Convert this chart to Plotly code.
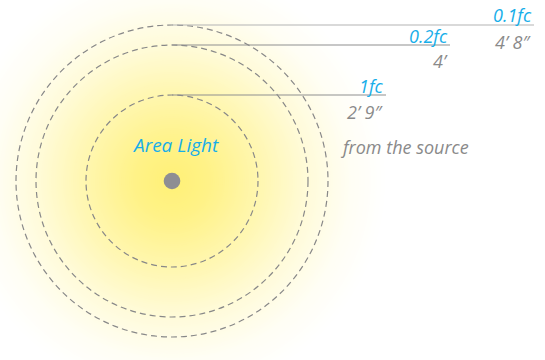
import plotly.graph_objects as go

# ---- data ----
levels = ["1fc", "0.2fc", "0.1fc"]            # illuminance levels
distances = ["2\u2019 9\u2033", "4\u2019", "4\u2019 8\u2033"]  # distance from the source
radii = [86, 136, 156]                         # drawn radius of each iso-illuminance ring
source_label = "Area Light"
note = "from the source"

# ---- styling / layout helpers ----
W, H = 545, 360
CX, CY = 172, 181  # pixel position of the source
BLUE = "#17aee9"
GRAY = "#8a8a8a"
FONT = "Open Sans"
FS = 18

line_end_px = [386, 450, 534]
line_colors = ["#8f8f8f", "#8f8f8f", "#b4b4b4"]
dist_y_px = [112, 61, 42]

def dx(px):
    return px - CX

def dy(py):
    return CY - py

fig = go.Figure()

shapes = []
# glow: stepped concentric discs, outer to inner
stops = [(0, 0.64), (40, 0.55), (86, 0.38), (136, 0.18), (156, 0.12), (180, 0.05), (215, 0.0)]

def alpha_at(r):
    for (r0, a0), (r1, a1) in zip(stops[:-1], stops[1:]):
        if r0 <= r <= r1:
            t = (r - r0) / (r1 - r0)
            return a0 + t * (a1 - a0)
    return 0.0

base = (255, 232, 40)
r = 215
while r > 0:
    a = alpha_at(r)
    col = tuple(round(255 + a * (c - 255)) for c in base)
    shapes.append(dict(type="circle", xref="x", yref="y", x0=-r, x1=r, y0=-r, y1=r,
                       fillcolor="rgb(%d,%d,%d)" % col, line=dict(width=0), layer="below"))
    r -= 2

# dashed rings
for rad in radii:
    shapes.append(dict(type="circle", xref="x", yref="y", x0=-rad, x1=rad, y0=-rad, y1=rad,
                       line=dict(color="#888888", width=1.2, dash="6px,4px"), fillcolor="rgba(0,0,0,0)"))

# leader lines
for rad, xe, lc in zip(radii, line_end_px, line_colors):
    shapes.append(dict(type="line", xref="x", yref="y", x0=0, x1=dx(xe), y0=rad, y1=rad,
                       line=dict(color=lc, width=1.2)))

# source dot
shapes.append(dict(type="circle", xref="x", yref="y", x0=-8.3, x1=8.3, y0=-8.3, y1=8.3,
                   fillcolor="#8e8e93", line=dict(width=0)))

annotations = []
for lvl, dist, rad, xe, ydp in zip(levels, distances, radii, line_end_px, dist_y_px):
    annotations.append(dict(x=dx(xe), y=rad, xref="x", yref="y", text=lvl, showarrow=False,
                            xanchor="right", yanchor="bottom", yshift=-4.5,
                            font=dict(family=FONT, size=FS, color=BLUE, style="italic")))
    annotations.append(dict(x=dx(xe), y=dy(ydp), xref="x", yref="y", text=dist, showarrow=False,
                            xanchor="right", yanchor="middle",
                            font=dict(family=FONT, size=FS, color=GRAY, style="italic")))

annotations.append(dict(x=dx(175), y=dy(145), xref="x", yref="y", text=source_label, showarrow=False,
                        xanchor="center", yanchor="middle",
                        font=dict(family=FONT, size=19, color=BLUE, style="italic")))
annotations.append(dict(x=dx(338), y=dy(147), xref="x", yref="y", text=note, showarrow=False,
                        xanchor="left", yanchor="middle",
                        font=dict(family=FONT, size=FS, color=GRAY, style="italic")))

fig.add_trace(go.Scatter(x=[0], y=[0], mode="markers", marker=dict(size=1, opacity=0),
                         hoverinfo="skip", showlegend=False))

fig.update_layout(
    width=W, height=H, margin=dict(l=0, r=0, t=0, b=0),
    paper_bgcolor="white", plot_bgcolor="white",
    shapes=shapes, annotations=annotations, showlegend=False,
    xaxis=dict(range=[-CX, W - CX], visible=False, fixedrange=True),
    yaxis=dict(range=[CY - H, CY], visible=False, fixedrange=True),
)

fig.write_html("out.html", config={"displayModeBar": False},
               post_script="document.body.style.margin='0';document.body.style.overflow='hidden';")
